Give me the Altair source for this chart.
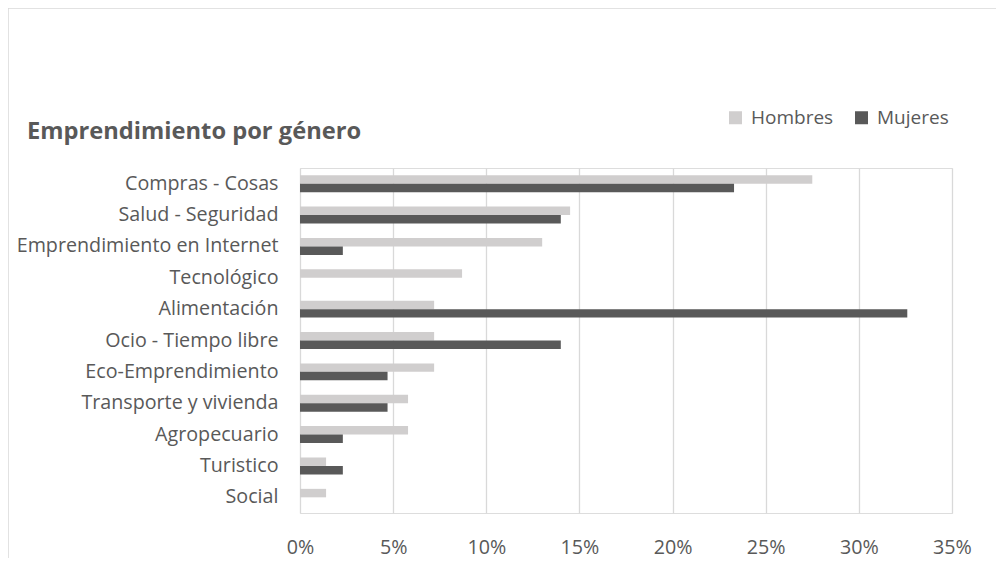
import altair as alt
import pandas as pd

categories = [
    "Compras - Cosas",
    "Salud - Seguridad",
    "Emprendimiento en Internet",
    "Tecnológico",
    "Alimentación",
    "Ocio - Tiempo libre",
    "Eco-Emprendimiento",
    "Transporte y vivienda",
    "Agropecuario",
    "Turistico",
    "Social",
]
hombres = [0.275, 0.145, 0.130, 0.087, 0.072, 0.072, 0.072, 0.058, 0.058, 0.014, 0.014]
mujeres = [0.233, 0.140, 0.023, 0.0, 0.326, 0.140, 0.047, 0.047, 0.023, 0.023, 0.0]
series = ["Hombres", "Mujeres"]
colors = ["#d0cece", "#595959"]
ticks = [0, 0.05, 0.10, 0.15, 0.20, 0.25, 0.30, 0.35]
title_text = "Emprendimiento por género"

rows = []
for c, h, m in zip(categories, hombres, mujeres):
    rows.append({"categoria": c, "genero": "Hombres", "valor": h})
    rows.append({"categoria": c, "genero": "Mujeres", "valor": m})
df = pd.DataFrame(rows)

FONT = "Open Sans"
TXT = "#595959"

bars = (
    alt.Chart(df)
    .mark_bar()
    .encode(
        y=alt.Y(
            "categoria:N",
            sort=categories,
            title=None,
            scale=alt.Scale(paddingInner=0.46, paddingOuter=0.23),
            axis=alt.Axis(
                domain=False,
                ticks=False,
                labelFont=FONT,
                labelFontSize=19.7,
                labelColor=TXT,
                labelPadding=22,
                labelLimit=400,
            ),
        ),
        yOffset=alt.YOffset("genero:N", sort=series, scale=alt.Scale(paddingInner=0)),
        x=alt.X(
            "valor:Q",
            title=None,
            scale=alt.Scale(domain=[0, 0.35], nice=False),
            axis=alt.Axis(
                values=ticks,
                format=".0%",
                domain=False,
                ticks=False,
                grid=True,
                gridColor="#d9d9d9",
                gridWidth=1.3,
                labelFont=FONT,
                labelFontSize=19.7,
                labelColor=TXT,
                labelPadding=24,
                labelFlush=False,
            ),
        ),
        color=alt.Color(
            "genero:N",
            sort=series,
            scale=alt.Scale(domain=series, range=colors),
            legend=alt.Legend(
                title=None,
                orient="none",
                direction="horizontal",
                legendX=426,
                legendY=-60,
                symbolType="square",
                symbolSize=169,
                symbolStrokeWidth=0,
                labelFont=FONT,
                labelFontSize=19,
                labelColor=TXT,
                columnPadding=18,
                labelOffset=6,
            ),
        ),
    )
)

frame = alt.Chart(pd.DataFrame({"k": [0]})).mark_rect(
    fill="transparent", stroke="#d9d9d9", strokeWidth=1.5
).encode(
    x=alt.value(-292),
    x2=alt.value(760),
    y=alt.value(-160),
    y2=alt.value(420),
)

title = alt.Chart(pd.DataFrame({"t": [title_text]})).mark_text(
    font=FONT, fontSize=23.7, fontWeight="bold", color=TXT,
    align="left", baseline="middle",
).encode(
    text="t:N",
    x=alt.value(-273),
    y=alt.value(-36),
)

chart = (
    alt.layer(frame, bars, title)
    .properties(
        width=652,
        height=345,
        autosize=alt.AutoSizeParams(type="none"),
        padding={"left": 292, "top": 160, "right": 44, "bottom": 45},
    )
    .configure_view(stroke="transparent")
    .configure(background="white")
)

chart.save("out.html", embed_options={"renderer": "svg", "actions": False})
